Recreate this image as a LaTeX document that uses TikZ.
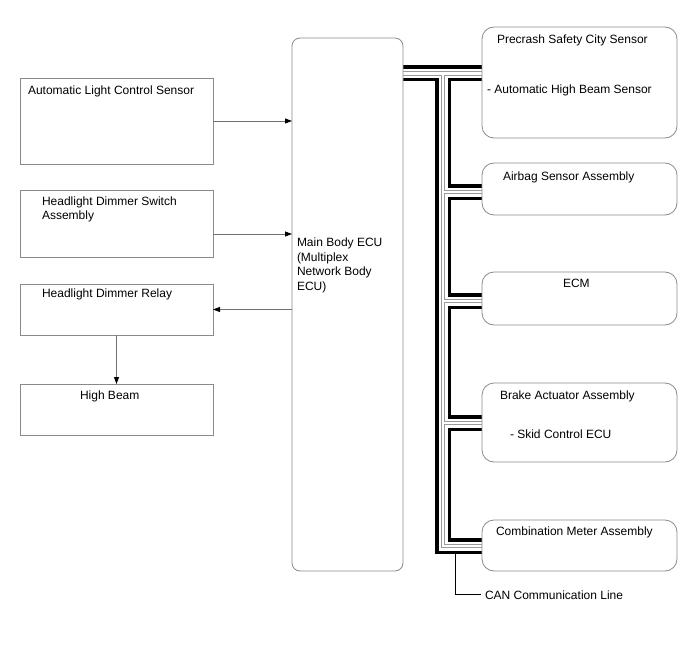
\documentclass[tikz,border=0pt]{standalone}
\usepackage{fontspec}
\setmainfont{Liberation Sans}
\usetikzlibrary{arrows.meta,backgrounds}
\definecolor{boxgray}{HTML}{8A8A8A}
\definecolor{linegray}{HTML}{707070}
\definecolor{busgray}{HTML}{9A9A9A}
\newcommand\drawcanbus[1]{%
  \draw[#1] (ecu.east |- jT) -- (pre.west |- jT);
  \draw[#1] (jT) -- (jB) -- (comb.west |- jB);
  \draw[#1] (jA) -- (air.west |- jA);
  \draw[#1] (jE) -- (ecm.west |- jE);
  \draw[#1] (jK) -- (brk.west |- jK);
}
\begin{document}
\begin{tikzpicture}[x=1pt,y=-1pt,
  every node/.style={inner sep=0pt,outer sep=0pt},
  lbox/.style={draw=boxgray,line width=0.8pt,fill=white,anchor=north west},
  rbox/.style={lbox,rounded corners=12pt},
  txt/.style={anchor=base west,font=\fontsize{12}{14.5}\selectfont},
  arr/.style={draw=linegray,line width=0.8pt,-{Triangle[length=7pt,width=5pt,color=black]}}]
\useasboundingbox (0,0) rectangle (688,658);

% left boxes
\node[lbox,minimum width=193pt,minimum height=86pt] (alc) at (20,78) {};
\node[lbox,minimum width=193pt,minimum height=67pt] (sw) at (20,190) {};
\node[lbox,minimum width=193pt,minimum height=51pt] (rel) at (20,284) {};
\node[lbox,minimum width=193pt,minimum height=51pt] (hb) at (20,384) {};
% ECU
\node[lbox,rounded corners=8pt,minimum width=111pt,minimum height=533pt] (ecu) at (292,38) {};
% right boxes
\node[rbox,minimum width=195pt,minimum height=111pt] (pre) at (482,27) {};
\node[rbox,minimum width=195pt,minimum height=52pt] (air) at (482,163) {};
\node[rbox,minimum width=195pt,minimum height=53pt] (ecm) at (482,272) {};
\node[rbox,minimum width=195pt,minimum height=79pt] (brk) at (482,383) {};
\node[rbox,minimum width=195pt,minimum height=51pt] (comb) at (482,520) {};

% texts
\node[txt] (t1) at (28,94.5) {Automatic Light Control Sensor};
\node[txt] (t2) at (42,205.5) {Headlight Dimmer Switch};
\node[txt] (t3) at (42,219.5) {Assembly};
\node[txt] (t4) at (42,297.3) {Headlight Dimmer Relay};
\node[txt] (t5) at (80,399) {High Beam};
\node[txt] (t6) at (297,246.5) {Main Body ECU};
\node[txt] (t7) at (297,261) {(Multiplex};
\node[txt] (t8) at (297,275.5) {Network Body};
\node[txt] (t9) at (297,290) {ECU)};
\node[txt] (t10) at (497,43.3) {Precrash Safety City Sensor};
\node[txt] (t11) at (487,94) {- Automatic High Beam Sensor};
\node[txt] (t12) at (503,180.5) {Airbag Sensor Assembly};
\node[txt] (t13) at (563,287.5) {ECM};
\node[txt] (t14) at (500,399.5) {Brake Actuator Assembly};
\node[txt] (t15) at (510,438.5) {- Skid Control ECU};
\node[txt] (t16) at (496,535) {Combination Meter Assembly};
\node[txt] (can) at (485,599) {CAN Communication Line};

% arrows
\coordinate (swy) at (0,234);
\draw[arr] (alc.east) -- (alc.east -| ecu.west);
\draw[arr] (sw.east |- swy) -- (ecu.west |- swy);
\draw[arr] (ecu.west |- rel.east) -- (rel.east);
\draw[arr] (rel.south) -- (hb.north);

% CAN bus
\coordinate (jT) at (443,73.5);
\coordinate (jA) at (443,192);
\coordinate (jE) at (443,301);
\coordinate (jK) at (443,423);
\coordinate (jB) at (443,546);
\begin{scope}[on background layer]
  \drawcanbus{line width=16pt,black}
  \drawcanbus{line width=9pt,white}
  \drawcanbus{line width=4.4pt,busgray}
  \drawcanbus{line width=2.8pt,white}
\end{scope}

% leader
\coordinate (canpt) at (455,553);
\draw[black,line width=0.8pt] (canpt) |- ([xshift=-4pt]can.west);
\end{tikzpicture}
\end{document}
